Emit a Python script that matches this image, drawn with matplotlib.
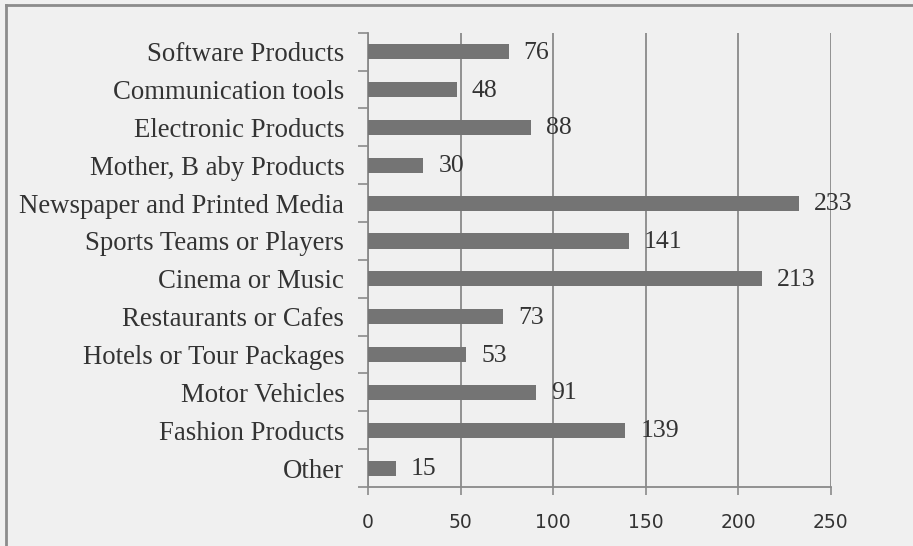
import numpy as np
import matplotlib.pyplot as plt
from matplotlib.ticker import FixedLocator
from matplotlib.lines import Line2D

# Categories listed bottom to top
categories = ["Other", "Fashion Products", "Motor Vehicles", "Hotels or Tour Packages",
              "Restaurants or Cafes", "Cinema or Music", "Sports Teams or Players",
              "Newspaper and Printed Media", "Mother, B aby Products", "Electronic Products",
              "Communication tools", "Software Products"]
counts = [15, 139, 91, 53, 73, 213, 141, 233, 30, 88, 48, 76]
xticks = [0, 50, 100, 150, 200, 250]

bg = "#f0f0f0"
bar_color = "#747474"
grid_color = "#8a8a8a"
text_color = "#333333"

fig = plt.figure(figsize=(9.13, 5.46), dpi=100, facecolor=bg)
ax = fig.add_axes([0.403, 0.108, 0.507, 0.832], facecolor=bg)

y = np.arange(len(categories))
ax.barh(y, counts, height=0.4, color=bar_color, zorder=3)

for yi, v in zip(y, counts):
    ax.annotate(str(v), (v, yi), xytext=(15, -1), textcoords="offset pixels",
                ha="left", va="center", fontsize=18.5, family="Liberation Serif",
                color=text_color, zorder=4)

ax.set_xlim(0, 250)
ax.set_ylim(-0.5, len(categories) - 0.5)
ax.set_xticks(xticks)
ax.set_xticklabels([str(t) for t in xticks], fontsize=13.5, family="DejaVu Sans",
                   color=text_color)
ax.set_yticks(y)
ax.set_yticklabels(categories, fontsize=19.3, family="Liberation Serif", color=text_color)
ax.yaxis.set_minor_locator(FixedLocator(np.arange(-0.5, len(categories), 1.0)))

ax.tick_params(axis="y", which="major", length=0, pad=17)
ax.tick_params(axis="y", which="minor", length=7, width=1.2, color=grid_color, direction="out")
ax.tick_params(axis="x", which="major", length=6, width=1.2, color=grid_color, pad=13)

ax.grid(axis="x", color=grid_color, linewidth=1.3, zorder=1)
for side in ("top", "right"):
    ax.spines[side].set_visible(False)
for side in ("left", "bottom"):
    ax.spines[side].set_color(grid_color)
    ax.spines[side].set_linewidth(1.3)

# frame edges along the left and top of the figure
fig.add_artist(Line2D([6 / 913, 6 / 913], [0, 1 - 5 / 546], transform=fig.transFigure,
                      color="#8c8c8c", linewidth=2))
fig.add_artist(Line2D([6 / 913, 1], [1 - 5 / 546, 1 - 5 / 546], transform=fig.transFigure,
                      color="#8c8c8c", linewidth=2))

fig.savefig("out.png", dpi=100, facecolor=bg)
